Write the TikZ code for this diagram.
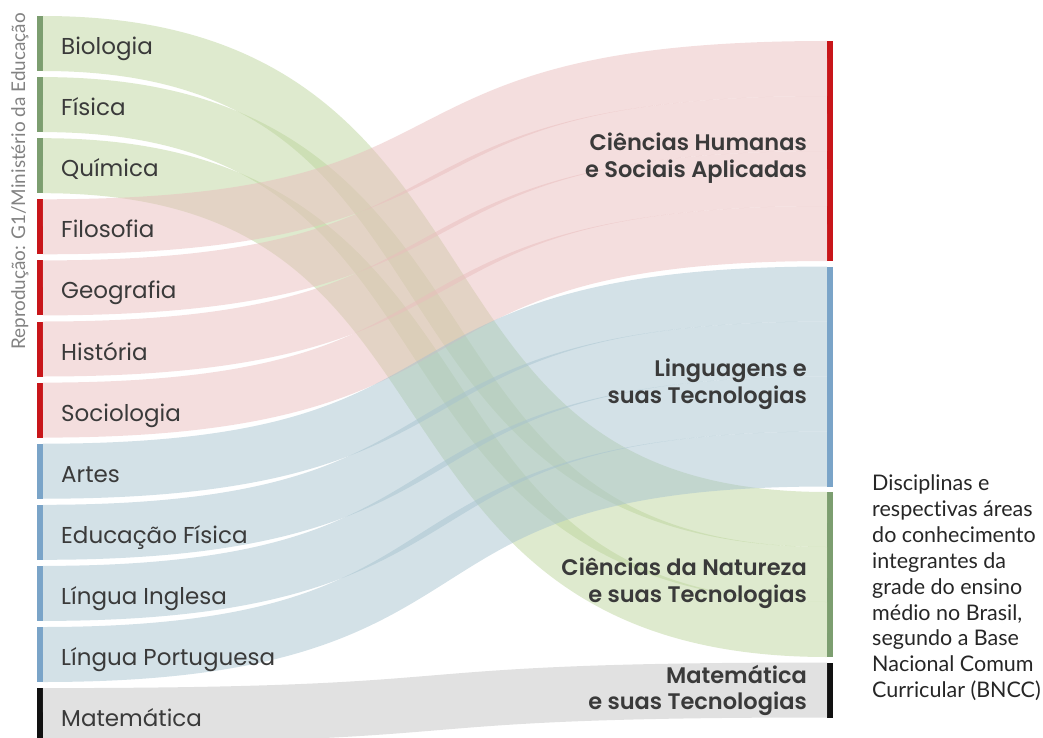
\documentclass[tikz,border=0pt]{standalone}
\usepackage{fontspec}
\setmainfont{Poppins}
\newfontfamily\semibfont{Poppins SemiBold}
\newfontfamily\latofont[Ligatures={NoCommon,NoRare}]{Lato}
\definecolor{gbar}{RGB}{124,158,112}
\definecolor{rbar}{RGB}{200,22,26}
\definecolor{bbar}{RGB}{122,164,200}
\definecolor{kbar}{RGB}{17,17,17}
\definecolor{glink}{RGB}{189,213,157}
\definecolor{plink}{RGB}{233,189,189}
\definecolor{blink}{RGB}{167,195,207}
\definecolor{klink}{RGB}{195,195,195}
\definecolor{txt}{RGB}{58,58,58}
\definecolor{credit}{RGB}{130,130,130}
\tikzset{
  lbar/.style={draw=none, fill=#1, minimum width=6pt, minimum height=55pt, inner sep=0pt, outer sep=0pt},
  rbarbox/.style={draw=none, fill=#1, minimum width=6pt, inner sep=0pt, outer sep=0pt},
  link/.style={draw=#1, line width=55pt, draw opacity=0.5, line cap=butt},
  llabel/.style={anchor=base west, inner sep=0pt, text=txt, font=\fontsize{23}{28}\selectfont},
  rlabel/.style={anchor=base east, inner sep=0pt, text=txt, font=\semibfont\fontsize{22.5}{27}\selectfont},
}
\begin{document}
\begin{tikzpicture}[x=1pt,y=-1pt]
\useasboundingbox (0,0) rectangle (1043,738);
\begin{scope}
\clip (0,0) rectangle (1043,738);
% left bars
\node[lbar=gbar] (bio) at (40,43.5) {};
\node[lbar=gbar] (fis) at (40,104.6) {};
\node[lbar=gbar] (qui) at (40,165.7) {};
\node[lbar=rbar] (filo) at (40,226.8) {};
\node[lbar=rbar] (geo) at (40,287.9) {};
\node[lbar=rbar] (hist) at (40,349.0) {};
\node[lbar=rbar] (soc) at (40,410.1) {};
\node[lbar=bbar] (art) at (40,471.2) {};
\node[lbar=bbar] (edf) at (40,532.3) {};
\node[lbar=bbar] (ing) at (40,593.4) {};
\node[lbar=bbar] (por) at (40,654.5) {};
\node[lbar=kbar] (mat) at (40,715.6) {};
% right bars
\node[rbarbox=rbar, minimum height=220pt] (CH) at (830,151) {};
\node[rbarbox=bbar, minimum height=220pt] (LG) at (830,376.5) {};
\node[rbarbox=gbar, minimum height=165pt] (CN) at (830,574.5) {};
\node[rbarbox=kbar, minimum height=55pt] (MT) at (830,690) {};
% link ends on the right
\coordinate (filoR) at (827,68.5);
\coordinate (geoR) at (827,123.5);
\coordinate (histR) at (827,178.5);
\coordinate (socR) at (827,233.5);
\coordinate (artR) at (827,294);
\coordinate (edfR) at (827,349);
\coordinate (ingR) at (827,404);
\coordinate (porR) at (827,459);
\coordinate (bioR) at (827,519.5);
\coordinate (fisR) at (827,574.5);
\coordinate (quiR) at (827,629.5);
\coordinate (matR) at (827,690);
% links
\foreach \s in {bio,fis,qui}{
  \draw[link=glink] (\s.east) .. controls +(475,0) and +(-475,0) .. (\s R);
}
\foreach \s in {filo,geo,hist,soc}{
  \draw[link=plink] (\s.east) .. controls +(475,0) and +(-475,0) .. (\s R);
}
\foreach \s in {art,edf,ing,por}{
  \draw[link=blink] (\s.east) .. controls +(475,0) and +(-475,0) .. (\s R);
}
\draw[link=klink] (mat.east) .. controls +(475,0) and +(-475,0) .. (matR);
\end{scope}
% left labels
\node[llabel] (tbio) at (61,54.5) {Biologia};
\node[llabel] (tfis) at (61,115.6) {Física};
\node[llabel] (tqui) at (61,176.7) {Química};
\node[llabel] (tfilo) at (61,237.8) {Filosofia};
\node[llabel] (tgeo) at (61,298.9) {Geografia};
\node[llabel] (thist) at (61,360) {História};
\node[llabel] (tsoc) at (61,421.1) {Sociologia};
\node[llabel] (tart) at (61,482.2) {Artes};
\node[llabel] (tedf) at (61,543.3) {Educação Física};
\node[llabel] (ting) at (61,604.4) {Língua Inglesa};
\node[llabel] (tpor) at (61,665.5) {Língua Portuguesa};
\node[llabel] (tmat) at (61,726.6) {Matemática};
% right labels
\node[rlabel] (tch1) at (807,151) {Ciências Humanas};
\node[rlabel] (tch2) at (807,178) {e Sociais Aplicadas};
\node[rlabel] (tlg1) at (807,376) {Linguagens e};
\node[rlabel] (tlg2) at (807,403) {suas Tecnologias};
\node[rlabel] (tcn1) at (807,575) {Ciências da Natureza};
\node[rlabel] (tcn2) at (807,602) {e suas Tecnologias};
\node[rlabel] (tmt1) at (807,683) {Matemática};
\node[rlabel] (tmt2) at (807,709) {e suas Tecnologias};
% description
\node[anchor=north west, inner sep=0pt, align=left, text=black!85,
      font=\latofont\fontsize{21.5}{25.9}\selectfont] (desc) at (872,474.5)
  {Disciplinas e\\respectivas áreas\\do conhecimento\\integrantes da\\grade do ensino\\médio no Brasil,\\segundo a Base\\Nacional Comum\\Curricular (BNCC)};
% credit
\node[rotate=90, anchor=base west, inner sep=0pt, text=credit,
      font=\latofont\fontsize{18.9}{20}\selectfont] (cred) at (25,350)
  {Reprodução: G1/Ministério da Educação};
\end{tikzpicture}
\end{document}
